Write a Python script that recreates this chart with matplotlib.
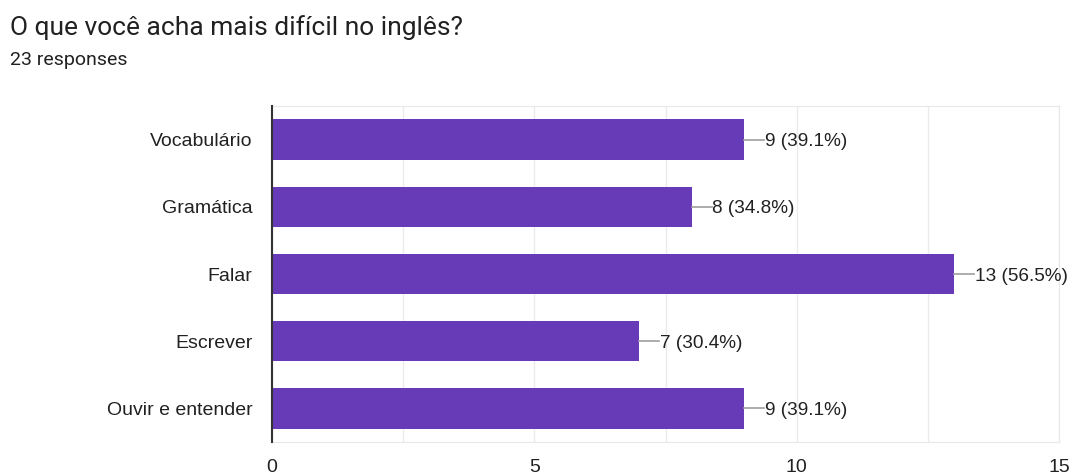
import numpy as np
import matplotlib.pyplot as plt

categories = ['Vocabulário', 'Gramática', 'Falar', 'Escrever', 'Ouvir e entender']
counts = [9, 8, 13, 7, 9]
percents = [39.1, 34.8, 56.5, 30.4, 39.1]
xticks = [0, 5, 10, 15]

plt.rcParams['font.family'] = ['Roboto', 'DejaVu Sans']
axfont = ['Liberation Sans', 'DejaVu Sans']

fig = plt.figure(figsize=(10.77, 4.75), dpi=100)
ax = fig.add_axes([0.2526, 0.0695, 0.7307, 0.7073])

y = np.arange(len(categories))
ax.barh(y, counts, height=0.6, color='#673ab7', zorder=3)

# value labels with short leader line
for yi, c, p in zip(y, counts, percents):
    ax.plot([c, c + 0.38], [yi, yi], color='#9e9e9e', lw=1.2, zorder=3)
    ax.text(c + 0.39, yi, f'{c} ({p}%)', va='center_baseline', ha='left',
            fontsize=13.7, color='#212121', family=axfont, zorder=4)

ax.set_xlim(0, 15)
ax.set_ylim(len(categories) - 0.5, -0.5)
ax.set_yticks(y)
ax.set_yticklabels(categories, fontsize=14, color='#212121', family=axfont)
ax.set_xticks(xticks)
ax.set_xticklabels([str(t) for t in xticks], fontsize=14, color='#212121', family=axfont)
ax.set_xticks(np.arange(0, 15.1, 2.5), minor=True)
ax.tick_params(axis='both', which='both', length=0)
ax.tick_params(axis='y', pad=14)
ax.tick_params(axis='x', pad=12)
ax.grid(axis='x', which='both', color='#ebebeb', lw=1, zorder=0)

for s in ['top', 'right', 'bottom']:
    ax.spines[s].set_color('#e8e8e8')
ax.spines['left'].set_color('#333333')
ax.spines['left'].set_linewidth(1.5)
ax.spines['left'].set_zorder(5)

fig.text(10 / 1077, 1 - 28 / 475, 'O que você acha mais difícil no inglês?',
         fontsize=19, color='#212121', va='center', ha='left')
fig.text(10 / 1077, 1 - 60 / 475, '23 responses',
         fontsize=14, color='#212121', va='center', ha='left')

fig.savefig('out.png', dpi=100, facecolor='white')
